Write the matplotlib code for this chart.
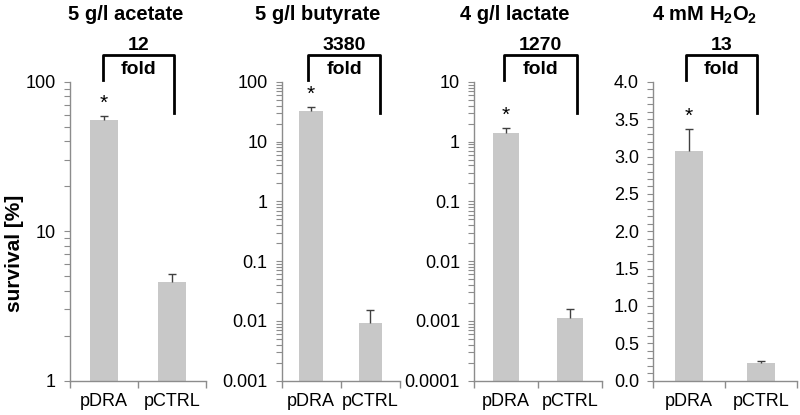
#!/usr/bin/env python3
import matplotlib
matplotlib.use('Agg')
import matplotlib.pyplot as plt
import matplotlib.transforms as mtransforms
from matplotlib.ticker import LogLocator, MultipleLocator, NullFormatter, FixedLocator

plt.rcParams['font.family'] = ['Liberation Sans', 'DejaVu Sans']
plt.rcParams['mathtext.fontset'] = 'custom'
plt.rcParams['mathtext.rm'] = 'Liberation Sans'
plt.rcParams['mathtext.bf'] = 'Liberation Sans:bold'

strains = ['pDRA', 'pCTRL']
titles = ['5 g/l acetate', '5 g/l butyrate', '4 g/l lactate',
          r'4 mM H$_\mathbf{2}$O$_\mathbf{2}$']
fold_labels = ['12', '3380', '1270', '13']

# survival [%] and upper error per condition (pDRA, pCTRL)
acetate = [55.7, 4.6]
acetate_err = [3.6, 0.6]
butyrate = [32.6, 0.0092]
butyrate_err = [5.9, 0.006]
lactate = [1.42, 0.0011]
lactate_err = [0.27, 0.00046]
h2o2 = [3.08, 0.24]
h2o2_err = [0.29, 0.025]

values = [acetate, butyrate, lactate, h2o2]
errors = [acetate_err, butyrate_err, lactate_err, h2o2_err]
ylims = [(1, 100), (0.001, 100), (0.0001, 10), (0, 4.0)]

# layout in pixels (800 x 415 figure)
ax_px = [(70, 136), (281.5, 118.5), (474, 128), (653, 144)]
title_x = [126, 318, 515, 705]
bracket_l = [-0.015, -0.05, -0.03, -0.04]
bracket_r = [1.03, 1.17, 1.11, 0.95]

W, H = 800, 415
fig = plt.figure(figsize=(8, 4.15), dpi=100)

bar_color = '#c8c8c8'
axis_color = '#8c8c8c'

for i in range(4):
    left, width = ax_px[i]
    ax = fig.add_axes([left / W, 1 - 380.5 / H, width / W, 298.5 / H])
    x = [0, 1]
    ax.bar(x, values[i], width=0.4, color=bar_color, zorder=2)
    eb = ax.errorbar(x, values[i], yerr=[[0, 0], errors[i]], fmt='none',
                     ecolor='#404040', elinewidth=1, capsize=3, capthick=1, zorder=3)
    eb[1][0].set_visible(False)  # only the upper cap
    if i < 3:
        ax.set_yscale('log')
        ax.yaxis.set_major_locator(LogLocator(base=10, numticks=10))
        ax.yaxis.set_minor_locator(LogLocator(base=10, subs=range(2, 10), numticks=20))
        ax.yaxis.set_minor_formatter(NullFormatter())
        ax.yaxis.set_major_formatter(plt.FuncFormatter(lambda v, p: ('%g' % v)))
    else:
        ax.yaxis.set_major_locator(MultipleLocator(0.5))
        ax.yaxis.set_minor_locator(MultipleLocator(0.1))
        ax.yaxis.set_major_formatter(plt.FuncFormatter(lambda v, p: '%.1f' % v))
    ax.set_ylim(*ylims[i])
    ax.set_xlim(-0.5, 1.5)

    # x ticks at category boundaries, labels at centres
    ax.xaxis.set_major_locator(FixedLocator([-0.5, 0.5, 1.5]))
    ax.xaxis.set_major_formatter(NullFormatter())
    ax.xaxis.set_minor_locator(FixedLocator(x))
    ax.set_xticklabels(strains, minor=True)
    ax.tick_params(axis='x', which='major', length=5, color=axis_color, width=1)
    ax.tick_params(axis='x', which='minor', length=0, pad=9, labelsize=13)
    ax.tick_params(axis='y', which='both', length=4, color=axis_color, width=0.8,
                   direction='out', labelsize=13, pad=6)

    for s in ['top', 'right']:
        ax.spines[s].set_visible(False)
    for s in ['left', 'bottom']:
        ax.spines[s].set_color(axis_color)
        ax.spines[s].set_linewidth(1)

    # asterisk above pDRA
    ax.annotate('*', (0, values[i][0] + errors[i][0]), xytext=(0, 2),
                textcoords='offset points', ha='center', va='bottom',
                fontsize=15, annotation_clip=False)

    # fold-change bracket
    trans = mtransforms.blended_transform_factory(ax.transData, ax.transAxes)
    yt = (380.5 - 55) / 298.5
    yl = (380.5 - 80) / 298.5
    yr = (380.5 - 113) / 298.5
    ax.plot([bracket_l[i], bracket_l[i], bracket_r[i], bracket_r[i]],
            [yl, yt, yt, yr], color='black', lw=2, transform=trans, clip_on=False)
    xm = (bracket_l[i] + bracket_r[i]) / 2
    ax.text(xm, (380.5 - 46) / 298.5, fold_labels[i], transform=trans,
            ha='center', va='center', fontsize=14, fontweight='bold')
    ax.text(xm, (380.5 - 70) / 298.5, 'fold', transform=trans,
            ha='center', va='center', fontsize=14, fontweight='bold')

    fig.text(title_x[i] / W, 1 - 15 / H, titles[i], ha='center', va='center',
             fontsize=14.5, fontweight='bold')

fig.text(14.5 / W, 1 - 253 / H, 'survival [%]', rotation=90, ha='center',
         va='center', fontsize=15, fontweight='bold')

fig.savefig('out.png', dpi=100)
